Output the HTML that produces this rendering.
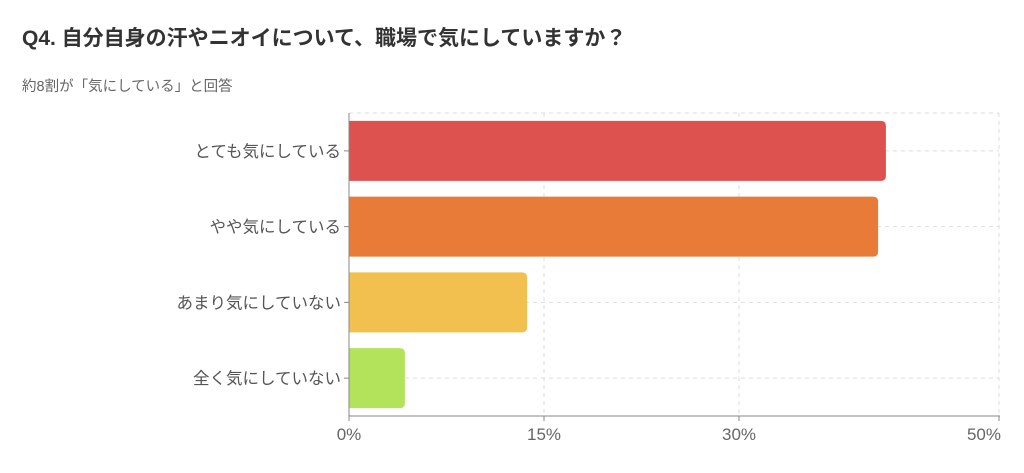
<!DOCTYPE html>
<html><head><meta charset="utf-8"><style>
body{margin:0;background:#fff;width:1024px;height:473px;overflow:hidden;font-family:"Liberation Sans","Noto Sans CJK JP",sans-serif}
h1{position:absolute;left:22px;top:22px;margin:0;font-size:21px;font-weight:bold;color:#333}
.sub{position:absolute;left:22px;top:75px;font-size:14.5px;color:#666}
svg{position:absolute;left:0;top:0}
</style></head><body>
<h1>Q4. 自分自身の汗やニオイについて、職場で気にしていますか？</h1>
<div class="sub">約8割が「気にしている」と回答</div>
<svg id="c" width="1024" height="473"></svg>
<script>
const categories=["とても気にしている","やや気にしている","あまり気にしていない","全く気にしていない"];
const values=[41.3,40.7,13.7,4.3];
const colors=["#dd524e","#e87b38","#f1c04e","#b2e35a"];
const tickValues=[0,15,30,50];
const tickLabels=["0%","15%","30%","50%"];
const NS="http://www.w3.org/2000/svg",svg=document.getElementById("c");
const x0=349,x1=999,yTop=113,yBot=416,band=(yBot-yTop)/categories.length;
const xs=v=>x0+(v/50)*(x1-x0);
const yc=i=>yTop+band*(i+0.5);
function mk(t,a){const e=document.createElementNS(NS,t);for(const k in a)e.setAttribute(k,a[k]);svg.appendChild(e);return e;}
let g=mk("line",{x1:x0,x2:x1,y1:yTop,y2:yTop,stroke:"#ddd","stroke-dasharray":"4,4"});


categories.forEach((c,i)=>{
  const l=mk("line",{x1:x0,x2:x1,y1:yc(i),y2:yc(i),stroke:"#ddd","stroke-dasharray":"4,4"});
  
  
});
tickValues.forEach((v,i)=>{
  if(v>0){const l=mk("line",{x1:xs(v),x2:xs(v),y1:yTop,y2:yBot,stroke:"#ddd","stroke-dasharray":"4,4"});
  
  }
  const t=mk("line",{x1:xs(v),x2:xs(v),y1:yBot,y2:yBot+5,stroke:"#888"});
  
  
  const tx=mk("text",{x:v===50?1001:xs(v),y:440,"text-anchor":v===50?"end":"middle","font-size":"17",fill:"#666"});
  tx.textContent=tickLabels[i];
  
  
});
categories.forEach((c,i)=>{
  const h=60,y=yc(i)-h/2,w=xs(values[i])-x0;
  const p=mk("path",{d:`M${x0},${y}H${x0+w-5}Q${x0+w},${y} ${x0+w},${y+5}V${y+h-5}Q${x0+w},${y+h} ${x0+w-5},${y+h}H${x0}Z`,fill:colors[i]});
  
  
  const t=mk("line",{x1:x0-5,x2:x0,y1:yc(i),y2:yc(i),stroke:"#888"});
  
  
  const tx=mk("text",{x:x0-8,y:yc(i)+6,"text-anchor":"end","font-size":"16.5",fill:"#555"});
  tx.textContent=c;
  
  
});
let a=mk("line",{x1:x0,x2:x0,y1:yTop,y2:yBot,stroke:"#888"});


a=mk("line",{x1:x0,x2:x1+1,y1:yBot,y2:yBot,stroke:"#888"});


</script>
</body></html>
